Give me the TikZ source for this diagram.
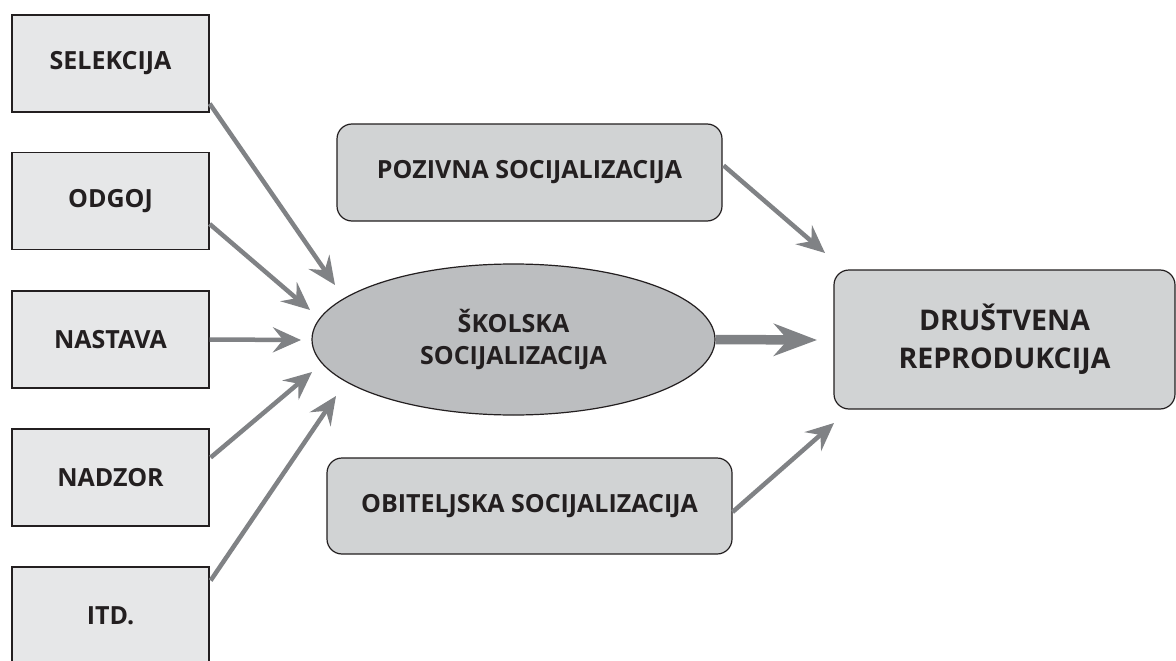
\documentclass[tikz,border=0pt]{standalone}
\usepackage{fontspec}
\setmainfont{Open Sans}
\usetikzlibrary{arrows.meta,shapes.geometric,calc}
\definecolor{boxfill}{HTML}{E6E7E8}
\definecolor{rfill}{HTML}{D1D3D4}
\definecolor{efill}{HTML}{BCBEC0}
\definecolor{arr}{HTML}{808285}
\definecolor{ink}{HTML}{231F20}
\begin{document}
\begin{tikzpicture}[x=1pt,y=-1pt,
 lbox/.style={draw=ink, line width=1.3pt, fill=boxfill, minimum width=197pt, minimum height=97pt, inner sep=0pt, font=\bfseries\fontsize{25}{28}\selectfont, text=ink},
 rbox/.style={draw=ink, line width=1.2pt, fill=rfill, rounded corners=15pt, inner sep=0pt, text=ink, align=center},
 link/.style={draw=arr, line width=4.5pt, -{Stealth[length=28pt,width=25pt,inset=10pt]}},
 biglink/.style={draw=arr, line width=9.5pt, -{Stealth[length=43pt,width=32pt,inset=14pt]}}]
\useasboundingbox (0,0) rectangle (1176,661);
\fill[white] (0,0) rectangle (1176,661);
% left boxes
\node[lbox] (sel) at (110.5,63.5) {SELEKCIJA};
\node[lbox] (odg) at (110.5,201) {ODGOJ};
\node[lbox] (nas) at (110.5,339.5) {NASTAVA};
\node[lbox] (nad) at (110.5,477.5) {NADZOR};
\node[lbox] (itd) at (110.5,615.5) {ITD.};
% centre
\node[ellipse, draw=ink, line width=1.2pt, fill=efill, minimum width=403pt, minimum height=151pt, inner sep=0pt, align=center, text=ink, font=\bfseries\fontsize{25}{32}\selectfont] (sko) at (513.5,339.5) {ŠKOLSKA\\SOCIJALIZACIJA};
\node[rbox, minimum width=385pt, minimum height=97pt, font=\bfseries\fontsize{25}{28}\selectfont] (poz) at (529.5,172.5) {POZIVNA SOCIJALIZACIJA};
\node[rbox, minimum width=405pt, minimum height=96pt, font=\bfseries\fontsize{25}{28}\selectfont] (obi) at (529.5,506) {OBITELJSKA SOCIJALIZACIJA};
\node[rbox, minimum width=341pt, minimum height=139pt, font=\bfseries\fontsize{28.5}{38}\selectfont] (dru) at (1004.5,339.5) {DRUŠTVENA\\REPRODUKCIJA};
% arrow tips
\coordinate (t1) at (335,285);
\coordinate (t2) at (310,310);
\coordinate (t3) at (301,340);
\coordinate (t4) at (312,372);
\coordinate (t5) at (336,396);
\coordinate (t6) at (825,253);
\coordinate (t7) at (817,340);
\coordinate (t8) at (834,423);
% connectors
\draw[link] ($(sel.south east)+(0,-9)$) -- (t1);
\draw[link] ($(odg.east)+(0,23)$) -- (t2);
\draw[link] (nas.east) -- (t3);
\draw[link] ($(nad.east)+(1,-20)$) -- (t4);
\draw[link] ($(itd.east)+(1,-35)$) -- (t5);
\draw[link] ($(poz.east)+(1,-7)$) -- (t6);
\draw[biglink] (sko.east) -- (t7);
\draw[link] ($(obi.east)+(0,6)$) -- (t8);
\end{tikzpicture}
\end{document}
